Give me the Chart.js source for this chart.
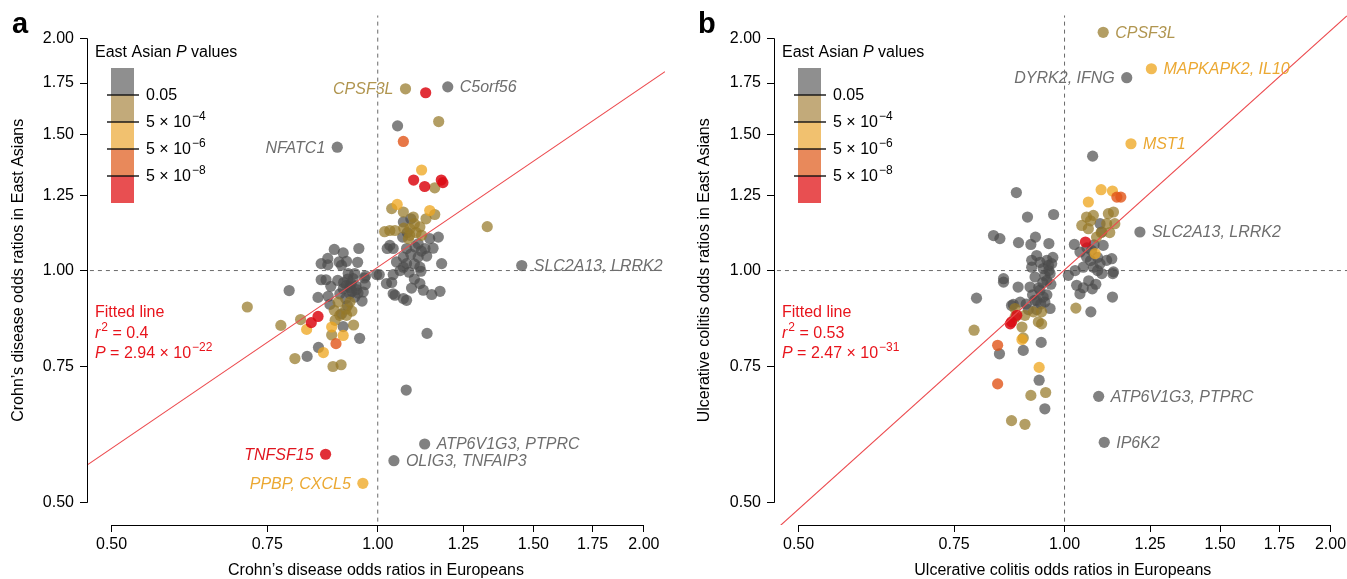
<!DOCTYPE html>
<html>
<head>
<meta charset="utf-8">
<script src="https://cdn.jsdelivr.net/npm/chart.js@4.4.1/dist/chart.umd.min.js"></script>
<style>
  html, body { margin: 0; padding: 0; background: #fff; overflow: hidden; width: 1347px; height: 579px; }
  .panel { position: absolute; top: 0; width: 680px; height: 579px; }
</style>
</head>
<body>
<div class="panel" style="left:0"><canvas id="cdChart" width="680" height="579"></canvas></div>
<div class="panel" style="left:680px"><canvas id="ucChart" width="680" height="579"></canvas></div>
<script>
// odds ratios: [European OR, East Asian OR]
const cdGray = [
  [0.90,1.445],[1.20,1.73],[1.053,1.54],[1.455,1.015],[1.137,0.829],[1.077,0.70],[1.13,0.596],[1.043,0.567],
  [0.794,0.942],[0.832,0.774],[0.857,0.795],[0.954,0.817],[0.914,0.846],
  [0.893,1.065],[0.952,1.068],[0.914,1.054],[0.878,1.037],[0.863,1.021],[0.904,1.026],[0.922,1.028],[0.949,1.025],
  [0.878,1.017],[0.91,1.016],[0.926,0.991],[0.942,0.991],[0.863,0.973],[0.874,0.973],[0.901,0.971],[0.969,0.984],
  [0.997,0.988],[0.933,0.962],[0.885,0.954],[0.914,0.947],[0.946,0.945],[0.968,0.959],[0.906,0.933],[0.93,0.933],
  [0.856,0.923],[0.879,0.926],[0.942,0.924],[0.96,0.913],[0.883,0.904],[0.91,0.879],[0.924,0.901],[0.922,0.957],
  [0.938,0.976],[0.966,0.978],[0.963,0.938],[0.93,0.95],[0.915,0.965],[0.945,0.955],[0.92,0.92],[0.935,0.94],
  [0.95,0.935],[0.925,0.975],
  [1.09,1.167],[1.069,1.156],[1.067,1.105],[1.111,1.083],[1.145,1.10],[1.171,1.105],[1.032,1.078],[1.041,1.068],
  [1.078,1.068],[1.102,1.073],[1.131,1.068],[1.155,1.069],[1.025,1.068],[1.069,1.041],[1.111,1.041],[1.136,1.044],
  [1.05,1.026],[1.078,1.021],[1.181,1.021],[1.116,1.01],[1.069,1.01],[1.004,0.988],[1.041,0.988],[1.119,0.998],
  [1.023,0.962],[1.037,0.965],[1.092,0.949],[1.116,0.962],[1.126,0.943],[1.151,0.931],[1.176,0.94],[1.041,0.933],
  [1.046,0.929],[1.069,0.92],[1.078,0.915],[1.09,1.05],[1.10,1.02],[1.085,0.995],[1.10,0.975],[1.06,1.0],
  [1.12,1.06],[1.08,1.12]
];
const cdTan = [
  [1.075,1.72],[1.172,1.56],[1.16,1.28],[1.33,1.14],[0.712,0.897],[0.777,0.849],[0.818,0.864],[0.806,0.769],
  [0.89,0.751],[0.909,0.755],[0.939,0.85],[0.887,0.825],[0.893,0.888],[0.906,0.875],[0.92,0.891],[0.935,0.886],
  [0.93,0.91],[0.902,0.91],[0.895,0.862],[0.922,0.875],
  [1.037,1.203],[1.069,1.191],[1.16,1.182],[1.097,1.173],[1.134,1.167],[1.018,1.123],[1.032,1.127],[1.046,1.127],
  [1.087,1.133],[1.116,1.139],[1.087,1.111],[1.121,1.111],[1.083,1.10],[1.10,1.15],[1.07,1.135],[1.105,1.12]
];
const cdYellow = [[1.121,1.35],[1.052,1.218],[1.145,1.196],[0.962,0.53],[0.831,0.839],[0.868,0.783],[0.914,0.824],[0.887,0.845]];
const cdOrange = [[1.069,1.47],[0.897,0.804]];
const cdRed = [[1.133,1.70],[1.098,1.31],[1.13,1.285],[1.18,1.31],[1.185,1.30],[0.856,0.872],[0.841,0.856],[0.873,0.578]];

const ucGray = [
  [1.176,1.778],[1.076,1.407],[1.217,1.122],[0.882,1.262],[0.908,1.173],[0.972,1.182],[1.093,0.687],[1.109,0.599],
  [0.831,1.11],[0.845,1.10],[0.887,1.087],[0.927,1.105],[0.916,1.081],[0.960,1.084],[0.93,1.046],[0.918,1.031],
  [0.955,1.031],[0.967,1.021],[0.918,1.01],[0.946,1.006],[0.853,0.976],[1.01,0.986],[1.026,1.081],[1.097,1.15],
  [1.102,1.122],[1.106,1.078],[1.131,1.036],[1.136,0.996],[1.041,1.057],[1.059,1.041],[1.073,1.062],[1.05,1.01],
  [1.078,1.01],[1.097,1.021],[1.116,1.031],[1.028,1.0],[1.102,0.991],
  [0.853,0.966],[0.886,0.952],[0.795,0.921],[0.871,0.901],[0.891,0.91],[0.963,0.893],[1.032,0.957],[1.041,0.933],
  [1.075,0.947],[1.133,0.924],[1.134,0.991],[1.071,0.884],[0.938,1.025],[0.959,1.016],[0.926,0.981],[0.955,0.971],
  [0.914,0.952],[0.938,0.943],[0.93,0.915],[0.946,0.924],[0.963,0.991],
  [0.844,0.78],[0.898,0.788],[0.941,0.807],[0.936,0.721],[0.95,0.662],[0.875,0.904],
  [0.92,0.93],[0.935,0.95],[0.945,0.965],[0.95,0.985],[0.96,1.0],[0.97,1.04],[0.905,0.905],[0.925,0.915],
  [0.94,0.905],[0.955,0.93],[0.965,0.96],[0.91,0.89],[0.93,0.89],[0.95,0.91],[1.06,1.07],[1.08,1.08],
  [1.09,1.04],[1.065,0.97],[1.085,0.96],[1.07,1.03],[1.05,0.95],[1.09,1.0]
];
const ucTan = [
  [1.106,2.036],[1.03,0.894],[1.059,1.173],[1.078,1.179],[1.046,1.144],[1.064,1.133],[1.121,1.185],[1.136,1.191],
  [1.116,1.15],[1.14,1.15],[1.087,1.105],[1.07,1.16],[1.10,1.12],[1.125,1.12],
  [0.879,0.893],[0.902,0.875],[0.922,0.884],[0.942,0.884],[0.934,0.858],[0.942,0.853],[0.895,0.845],[0.879,0.87],
  [0.79,0.837],[0.898,0.818],[0.916,0.689],[0.952,0.695],[0.871,0.639],[0.902,0.632]
];
const ucYellow = [[1.254,1.826],[1.189,1.46],[1.10,1.273],[1.064,1.227],[1.133,1.268],[1.083,1.052],[0.895,0.814],[0.936,0.749]];
const ucOrange = [[1.146,1.245],[1.158,1.245],[0.84,0.80],[0.84,0.713]];
const ucRed = [[1.056,1.089],[0.883,0.875],[0.871,0.858],[0.868,0.853]];

// gene labels: [text, European OR, East Asian OR, side, colour]
const cdLabels = [
  ['CPSF3L', 1.075, 1.72, 'left', 'tan'],
  ['C5orf56', 1.20, 1.73, 'right', 'gray'],
  ['NFATC1', 0.90, 1.445, 'left', 'gray'],
  ['SLC2A13, LRRK2', 1.455, 1.015, 'right', 'gray'],
  ['ATP6V1G3, PTPRC', 1.13, 0.596, 'right', 'gray'],
  ['OLIG3, TNFAIP3', 1.043, 0.567, 'right', 'gray'],
  ['TNFSF15', 0.873, 0.578, 'left', 'red'],
  ['PPBP, CXCL5', 0.962, 0.53, 'left', 'yellow']
];
const ucLabels = [
  ['CPSF3L', 1.106, 2.036, 'right', 'tan'],
  ['MAPKAPK2, IL10', 1.254, 1.826, 'right', 'yellow'],
  ['DYRK2, IFNG', 1.176, 1.778, 'left', 'gray'],
  ['MST1', 1.189, 1.46, 'right', 'yellow'],
  ['SLC2A13, LRRK2', 1.217, 1.122, 'right', 'gray'],
  ['ATP6V1G3, PTPRC', 1.093, 0.687, 'right', 'gray'],
  ['IP6K2', 1.109, 0.599, 'right', 'gray']
];

// fitted lines (log EastAsian = a + b log European)
const cdFit = { intercept: 0.01, slope: 0.78, r2: '0.4', p: '2.94', pExp: '\u221222' };
const ucFit = { intercept: 0.002, slope: 1.03, r2: '0.53', p: '2.47', pExp: '\u221231' };

const axisTicks = [0.5, 0.75, 1, 1.25, 1.5, 1.75, 2];
const legendLabels = [['0.05', ''], ['5 \u00d7 10', '\u22124'], ['5 \u00d7 10', '\u22126'], ['5 \u00d7 10', '\u22128']];

const X_MIN = 0.469, X_MAX = 2.113, Y_MIN = 0.468, Y_MAX = 2.14;
const FONT = '"Liberation Sans", Arial, Helvetica, sans-serif';

const POINT_COLORS = {
  gray: 'rgba(75,75,75,0.7)',
  tan: 'rgba(150,120,40,0.72)',
  yellow: 'rgba(238,165,30,0.76)',
  orange: 'rgba(225,85,25,0.8)',
  red: 'rgba(220,10,20,0.85)'
};
const TEXT_COLORS = { gray: '#6e6e6e', tan: '#b0954f', yellow: '#eba832', red: '#e0151f' };
const BAR_COLORS = ['#8f8f8f', '#c2aa7a', '#f1c16f', '#e8895b', '#e84f51'];
const FIT_COLOR = '#e8141c';

// draws a run of [text, style] pieces; style 'i' = italic, 's' = superscript
function richText(ctx, x, y, parts, size) {
  let cx = x;
  for (const [txt, st] of parts) {
    if (st === 's') {
      ctx.font = Math.round(size * 0.72) + 'px ' + FONT;
      ctx.fillText(txt, cx + 1, y - size * 0.42);
      cx += ctx.measureText(txt).width + 1;
    } else {
      ctx.font = (st === 'i' ? 'italic ' : '') + size + 'px ' + FONT;
      ctx.fillText(txt, cx, y);
      cx += ctx.measureText(txt).width;
    }
  }
}

const decorations = {
  id: 'decorations',
  afterDraw(chart, args, o) {
    const { ctx, chartArea: ca, scales: { x, y } } = chart;
    ctx.save();
    // detached R-style axis lines, tick to tick
    ctx.strokeStyle = '#000';
    ctx.lineWidth = 1;
    ctx.beginPath();
    ctx.moveTo(ca.left + 0.5, y.getPixelForValue(2));
    ctx.lineTo(ca.left + 0.5, y.getPixelForValue(0.5));
    ctx.moveTo(x.getPixelForValue(0.5), ca.bottom + 0.5);
    ctx.lineTo(x.getPixelForValue(2), ca.bottom + 0.5);
    ctx.stroke();

    // panel letter
    ctx.fillStyle = '#000';
    ctx.textBaseline = 'alphabetic';
    ctx.textAlign = 'left';
    ctx.font = 'bold 29px ' + FONT;
    ctx.fillText(o.letter, o.letterX, 33);

    // colour key
    const lx = ca.left;
    ctx.textBaseline = 'middle';
    richText(ctx, lx + 8, 53, [['East Asian ', ''], ['P', 'i'], [' values', '']], 16);
    const top = 68, seg = 27;
    BAR_COLORS.forEach((c, i) => {
      ctx.fillStyle = c;
      ctx.fillRect(lx + 24, top + i * seg, 23, seg);
    });
    ctx.strokeStyle = '#111';
    ctx.lineWidth = 1.4;
    ctx.fillStyle = '#000';
    legendLabels.forEach(([base, sup], i) => {
      const ly = top + (i + 1) * seg;
      ctx.beginPath();
      ctx.moveTo(lx + 20, ly);
      ctx.lineTo(lx + 52, ly);
      ctx.stroke();
      richText(ctx, lx + 59, ly + 1, sup ? [[base, ''], [sup, 's']] : [[base, '']], 16);
    });

    // fit statistics
    ctx.fillStyle = FIT_COLOR;
    richText(ctx, lx + 8, 313, [['Fitted line', '']], 16);
    richText(ctx, lx + 8, 334, [['r', 'i'], ['2', 's'], [' = ' + o.fit.r2, '']], 16);
    richText(ctx, lx + 8, 354, [['P', 'i'], [' = ' + o.fit.p + ' \u00d7 10', ''], [o.fit.pExp, 's']], 16);

    // gene labels
    ctx.font = 'italic 16px ' + FONT;
    for (const [txt, vx, vy, side, col] of o.labels) {
      const px = x.getPixelForValue(vx), py = y.getPixelForValue(vy);
      ctx.fillStyle = TEXT_COLORS[col];
      ctx.textAlign = side === 'left' ? 'right' : 'left';
      ctx.fillText(txt, side === 'left' ? px - 12 : px + 12, py + 1);
    }
    ctx.restore();
  }
};

function pts(arr) { return arr.map(([x, y]) => ({ x, y })); }

function makeChart(id, opt) {
  const fitLine = [X_MIN, X_MAX].map(v => ({ x: v, y: Math.exp(opt.fit.intercept + opt.fit.slope * Math.log(v)) }));
  const groups = [['red', opt.red], ['orange', opt.orange], ['yellow', opt.yellow], ['tan', opt.tan], ['gray', opt.gray]];
  const datasets = [
    { data: fitLine, showLine: true, borderColor: '#ec4a4e', borderWidth: 1.1, pointRadius: 0, order: 0 }
  ];
  groups.forEach(([key, arr], i) => {
    datasets.push({ data: pts(arr), backgroundColor: POINT_COLORS[key], pointRadius: 5.6, pointBorderWidth: 0, pointHoverRadius: 5.6, order: 1 + i });
  });
  datasets.push({ data: [{ x: 1, y: 0.4 }, { x: 1, y: 2.5 }], showLine: true, borderColor: '#6a6a6a', borderWidth: 1, borderDash: [4, 4], pointRadius: 0, order: 10 });
  datasets.push({ data: [{ x: 0.4, y: 1 }, { x: 2.5, y: 1 }], showLine: true, borderColor: '#6a6a6a', borderWidth: 1, borderDash: [4, 4], pointRadius: 0, order: 10 });

  const tickFont = { family: FONT, size: 16 };
  return new Chart(document.getElementById(id), {
    type: 'scatter',
    data: { datasets },
    options: {
      responsive: false,
      animation: false,
      devicePixelRatio: 1,
      layout: { padding: { top: 15, right: opt.padRight, bottom: 0, left: 0 } },
      plugins: {
        legend: { display: false },
        tooltip: { enabled: false },
        decorations: { letter: opt.letter, letterX: opt.letterX, fit: opt.fit, labels: opt.labels }
      },
      scales: {
        x: {
          type: 'logarithmic', min: X_MIN, max: X_MAX,
          afterBuildTicks: s => { s.ticks = axisTicks.map(v => ({ value: v })); },
          afterFit: s => { s.height = 54; },
          ticks: { callback: v => Number(v).toFixed(2), font: tickFont, color: '#000', padding: 3, autoSkip: false, maxRotation: 0 },
          grid: { drawOnChartArea: false, drawTicks: true, tickLength: 7, tickColor: '#000', tickWidth: 1 },
          border: { display: false },
          title: { display: true, text: opt.xTitle, color: '#000', font: { family: FONT, size: 16, lineHeight: 1 }, padding: { top: 0, bottom: 0 } }
        },
        y: {
          type: 'logarithmic', min: Y_MIN, max: Y_MAX,
          afterBuildTicks: s => { s.ticks = axisTicks.map(v => ({ value: v })); },
          afterFit: s => { s.width = opt.yWidth; },
          ticks: { callback: v => Number(v).toFixed(2), font: tickFont, color: '#000', padding: 6, autoSkip: false },
          grid: { drawOnChartArea: false, drawTicks: true, tickLength: 7, tickColor: '#000', tickWidth: 1 },
          border: { display: false },
          title: { display: true, text: opt.yTitle, color: '#000', font: { family: FONT, size: 16, lineHeight: 1 }, padding: { top: opt.yTitlePad, bottom: 0 } }
        }
      }
    },
    plugins: [decorations]
  });
}

makeChart('cdChart', {
  gray: cdGray, tan: cdTan, yellow: cdYellow, orange: cdOrange, red: cdRed,
  fit: cdFit, labels: cdLabels, letter: 'a', letterX: 12,
  xTitle: 'Crohn\u2019s disease odds ratios in Europeans',
  yTitle: 'Crohn\u2019s disease odds ratios in East Asians',
  yWidth: 87, padRight: 15, yTitlePad: 11
});
makeChart('ucChart', {
  gray: ucGray, tan: ucTan, yellow: ucYellow, orange: ucOrange, red: ucRed,
  fit: ucFit, labels: ucLabels, letter: 'b', letterX: 18,
  xTitle: 'Ulcerative colitis odds ratios in Europeans',
  yTitle: 'Ulcerative colitis odds ratios in East Asians',
  yWidth: 94, padRight: 8.4, yTitlePad: 17
});
</script>
</body>
</html>
